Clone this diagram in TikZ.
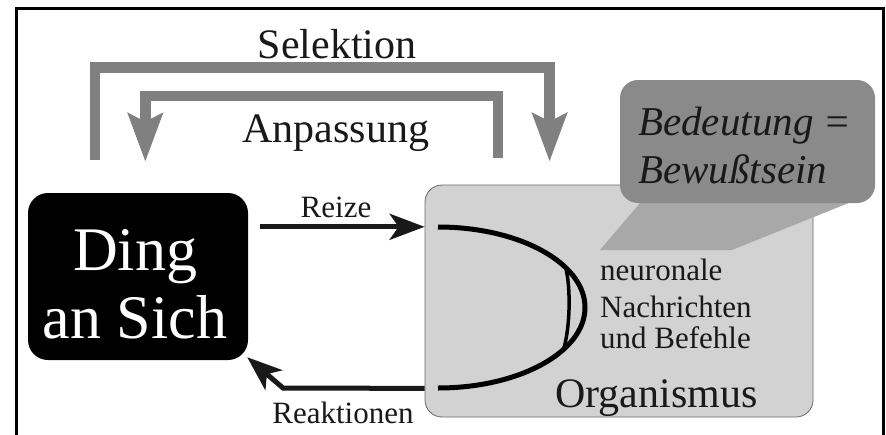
\documentclass[tikz,border=0pt]{standalone}
\usepackage{fontspec}
\newfontfamily\tms{Liberation Serif}
\usetikzlibrary{arrows.meta,calc}
\definecolor{barcol}{RGB}{128,128,128}
\definecolor{orgfill}{RGB}{210,210,210}
\definecolor{orgline}{RGB}{105,105,105}
\definecolor{bubfill}{RGB}{138,138,138}
\definecolor{tailfill}{RGB}{168,168,168}
\definecolor{ink}{RGB}{25,25,25}
\begin{document}
\begin{tikzpicture}[x=1pt,y=-1pt,
  dingbox/.style={fill=black, rounded corners=20pt, minimum width=220pt, minimum height=167pt, inner sep=0pt},
  orgbox/.style={draw=orgline, line width=0.8pt, fill=orgfill, rounded corners=17pt, minimum width=388pt, minimum height=232pt, inner sep=0pt},
  bubbox/.style={fill=bubfill, rounded corners=18pt, minimum width=255pt, minimum height=123pt, inner sep=0pt},
  bigtxt/.style={font=\tms\fontsize{62}{68}\selectfont, text=white, inner sep=0pt, anchor=base},
  lbl/.style={font=\tms\fontsize{42}{46}\selectfont, text=ink, inner sep=0pt},
  ital/.style={font=\tms\itshape\fontsize{41}{46}\selectfont, text=ink, inner sep=0pt, anchor=base west},
  small/.style={font=\tms\fontsize{31}{34}\selectfont, text=ink, inner sep=0pt},
  grayarrow/.style={draw=barcol, line width=10.5pt, line join=miter, -{Stealth[length=48pt,width=34pt,inset=8pt]}},
  blackarrow/.style={draw=ink, line width=5pt, line join=miter, -{Stealth[length=35pt,width=26pt,inset=9pt]}},
  neuro/.style={draw=black, line width=5pt},
  neurothin/.style={draw=black, line width=3.5pt}
]
\useasboundingbox (0,0) rectangle (886,434);
\clip (0,0) rectangle (886,434);
\fill[white] (0,0) rectangle (886,434);
\draw[line width=3pt] (16,8) rectangle (883,460);

% boxes
\node[dingbox] (ding) at (138,276.5) {};
\node[orgbox] (org) at (619,301) {};
\fill[tailfill] (646,196) -- (600,250) -- (732,250) -- (866,196) -- cycle;
\node[bubbox] (bub) at (747.5,141.5) {};

% texts
\node[bigtxt] (d1) at (135,270) {Ding};
\node[bigtxt] (d2) at (135,338) {an Sich};
\node[ital] (b1) at (638,135) {Bedeutung =};
\node[ital] (b2) at (638,183) {Bewußtsein};
\node[lbl, anchor=base] (sel) at (337,58) {Selektion};
\node[lbl, anchor=base] (anp) at (336,142) {Anpassung};
\node[small, anchor=base] (rz) at (336,217) {Reize};
\node[small, anchor=base] (rk) at (343,423) {Reaktionen};
\node[small, anchor=base west] (n1) at (600,280) {neuronale};
\node[small, anchor=base west] (n2) at (600,317) {Nachrichten};
\node[small, anchor=base west] (n3) at (600,348) {und Befehle};
\node[lbl, anchor=base west] (orgl) at (555,407) {Organismus};

% neuronal loop inside organism
\draw[neuro] (438,227) .. controls (519.2,227) and (585,263) .. (585,307.5)
                       .. controls (585,352) and (519.2,388) .. (438,388);
\draw[neurothin] (566,269) .. controls (571,290) and (570,330) .. (563,351);

% gray feedback arrows
\coordinate (selA) at ($(ding.north west)+(67,-33)$);
\coordinate (selB) at ($(org.north west)+(125,-23)$);
\draw[grayarrow] (selA) -- (selA |- 0,67.5) -- (selB |- 0,67.5) -- (selB);
\coordinate (anpA) at ($(org.north west)+(73.5,-27)$);
\coordinate (anpB) at ($(ding.north west)+(117.5,-31)$);
\draw[grayarrow] (anpA) -- (anpA |- 0,96) -- (anpB |- 0,96) -- (anpB);

% stimuli and reactions
\coordinate (rzA) at ($(ding.north east)+(12,34)$);
\draw[blackarrow] (rzA) -- (org.west |- rzA);
\coordinate (rkA) at ($(org.south west)+(0,-29)$);
\coordinate (rkB) at ($(ding.south east)+(-1,-3)$);
\draw[blackarrow] (rkA) -- (283,388) -- (rkB);
\end{tikzpicture}
\end{document}
